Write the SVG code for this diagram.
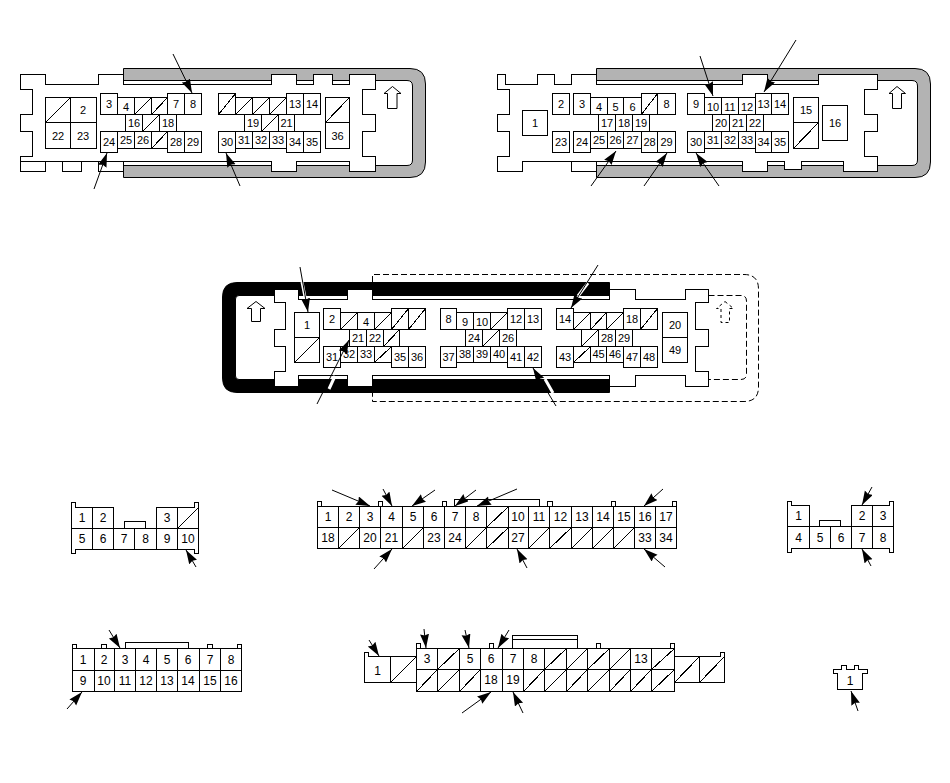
<svg xmlns="http://www.w3.org/2000/svg" width="950" height="783" viewBox="0 0 950 783">
<style>
text{font-family:"Liberation Sans",Arial,sans-serif;font-size:11px;text-anchor:middle;fill:#000;opacity:.999}
.big text{font-size:12px}
.b{fill:#fff;stroke:#000;stroke-width:1;shape-rendering:crispEdges}
.g{fill:none;stroke:#000;stroke-width:1;shape-rendering:crispEdges}
.band{fill:#b3b3b3;stroke:#000;stroke-width:1}
.k{fill:#000;stroke:#000;stroke-width:1}
.d{fill:none;stroke:#000;stroke-width:1;stroke-dasharray:6 3}
.u{fill:#fff;stroke:#000;stroke-width:1}
.ud{fill:none;stroke:#000;stroke-width:1;stroke-dasharray:3 3}
.a{stroke:#000;stroke-width:1;fill:none;marker-end:url(#ah)}
.h{stroke:#fff;stroke-width:3;fill:none}
</style>
<defs>
<marker id="ah" markerUnits="userSpaceOnUse" markerWidth="15" markerHeight="10" refX="14" refY="4.5" orient="auto">
<path d="M0,0L14,4.5L0,9L1.5,4.5z" fill="#000"/>
</marker>
</defs>
<rect width="950" height="783" fill="#fff"/>

<g id="connector-a">
<path class="band" d="M123.5,68.5H410Q425.5,68.5 425.5,84V162Q425.5,177.5 410,177.5H123.5V165.5H407Q412.5,165.5 412.5,160V86Q412.5,80.5 407,80.5H123.5Z"/>
<path class="b" d="M20.5,74.5H45.5V84.5H98.5V74.5H123.5V84.5H271.5V74.5H296.5V84.5H313.5V74.5H332.5V84.5H349.5V74.5H375.5V89.5H362.5V114.5H375.5V131.5H362.5V156.5H375.5V171.5H349.5V161.5H296.5V171.5H271.5V161.5H123.5V171.5H98.5V161.5H81.5V171.5H62.5V161.5H45.5V171.5H20.5V156.5H32.5V131.5H20.5V114.5H32.5V89.5H20.5Z"/>
<path class="g" d="M20.5,161.5H123.5M20.5,156.5H32.5"/>
<path class="g" d="M45.5,97.5h25v25h-25zM45.5,122.5L70.5,97.5M70.5,97.5h26v25h-26zM45.5,122.5h25v26h-25zM70.5,122.5h26v26h-26z
M100.5,93.5h17v21h-17zM117.5,97.5h17v17h-17zM134.5,97.5h17v17h-17zM134.5,114.5L151.5,97.5M151.5,97.5h16v17h-16zM151.5,114.5L167.5,97.5M167.5,93.5h17v21h-17zM184.5,93.5h17v21h-17z
M125.5,114.5h17v17h-17zM142.5,114.5h17v17h-17zM142.5,131.5L159.5,114.5M159.5,114.5h17v17h-17z
M100.5,131.5h17v21h-17zM117.5,131.5h17v17h-17zM134.5,131.5h17v17h-17zM151.5,131.5h16v17h-16zM151.5,148.5L167.5,131.5M167.5,131.5h17v21h-17zM184.5,131.5h17v21h-17z
M218.5,93.5h17v21h-17zM218.5,114.5L235.5,93.5M235.5,97.5h17v17h-17zM235.5,114.5L252.5,97.5M252.5,97.5h17v17h-17zM252.5,114.5L269.5,97.5M269.5,97.5h17v17h-17zM269.5,114.5L286.5,97.5M286.5,93.5h17v21h-17zM303.5,93.5h17v21h-17z
M244.5,114.5h17v17h-17zM261.5,114.5h17v17h-17zM261.5,131.5L278.5,114.5M278.5,114.5h16v17h-16z
M218.5,131.5h17v21h-17zM235.5,131.5h17v17h-17zM252.5,131.5h17v17h-17zM269.5,131.5h17v17h-17zM286.5,131.5h17v21h-17zM303.5,131.5h17v21h-17z
M325.5,97.5h24v25h-24zM325.5,122.5L349.5,97.5M325.5,122.5h24v26h-24z"/>
<path class="u" d="M392.5,86.5L401,93.5H397V108.5H387.5V93.5H384Z"/>
<text x="83" y="114">2</text><text x="58" y="139.5">22</text><text x="83" y="139.5">23</text>
<text x="109" y="108">3</text><text x="126" y="111">4</text><text x="176" y="108">7</text><text x="193" y="108">8</text>
<text x="134" y="127">16</text><text x="168" y="127">18</text>
<text x="109" y="146">24</text><text x="126" y="144">25</text><text x="143" y="144">26</text><text x="176" y="146">28</text><text x="193" y="146">29</text>
<text x="295" y="108">13</text><text x="312" y="108">14</text>
<text x="253" y="127">19</text><text x="286.5" y="127">21</text>
<text x="227" y="146">30</text><text x="244" y="144">31</text><text x="261" y="144">32</text><text x="278" y="144">33</text><text x="295" y="146">34</text><text x="312" y="146">35</text>
<text x="337.5" y="139.5">36</text>
</g>

<g id="connector-b">
<path class="band" d="M596.5,68.5H915Q930.5,68.5 930.5,84V162Q930.5,177.5 915,177.5H596.5V165.5H912Q917.5,165.5 917.5,160V86Q917.5,80.5 912,80.5H596.5Z"/>
<path class="b" d="M497.5,74.5H505.5V84.5H537.5V74.5H554.5V84.5H571.5V74.5H596.5V84.5H742.5V74.5H767.5V84.5H818.5V74.5H877.5V89.5H864.5V114.5H877.5V131.5H864.5V156.5H877.5V171.5H843.5V161.5H801.5V169.5H784.5V161.5H767.5V171.5H742.5V161.5H596.5V171.5H571.5V161.5H522.5V171.5H497.5V156.5H509.5V131.5H497.5V114.5H509.5V89.5H497.5Z"/>
<path class="g" d="M596.5,161.5H571.5M497.5,89.5H509.5"/>
<path class="g" d="M522.5,110.5h25v25h-25zM552.5,93.5h17v21h-17zM552.5,131.5h17v21h-17z
M573.5,93.5h17v21h-17zM590.5,97.5h17v17h-17zM607.5,97.5h16v17h-16zM623.5,97.5h18v17h-18zM641.5,93.5h16v21h-16zM641.5,114.5L657.5,93.5M657.5,93.5h18v21h-18z
M598.5,114.5h17v17h-17zM615.5,114.5h17v17h-17zM632.5,114.5h17v17h-17z
M573.5,131.5h17v21h-17zM590.5,131.5h17v17h-17zM607.5,131.5h16v17h-16zM623.5,131.5h18v17h-18zM641.5,131.5h16v21h-16zM657.5,131.5h18v21h-18z
M687.5,93.5h17v21h-17zM704.5,97.5h17v17h-17zM721.5,97.5h17v17h-17zM738.5,97.5h17v17h-17zM755.5,93.5h16v21h-16zM771.5,93.5h17v21h-17z
M712.5,114.5h17v17h-17zM729.5,114.5h17v17h-17zM746.5,114.5h17v17h-17z
M687.5,131.5h17v21h-17zM704.5,131.5h17v17h-17zM721.5,131.5h17v17h-17zM738.5,131.5h17v17h-17zM755.5,131.5h16v21h-16zM771.5,131.5h17v21h-17z
M793.5,97.5h25v25h-25zM793.5,122.5h25v26h-25zM793.5,148.5L818.5,122.5M822.5,105.5h25v35h-25z"/>
<path class="u" d="M897,86.5L905.5,93.5H901.5V108.5H892.5V93.5H889Z"/>
<text x="535" y="127">1</text><text x="561" y="108">2</text><text x="561" y="146">23</text>
<text x="582" y="108">3</text><text x="599" y="111">4</text><text x="615.5" y="111">5</text><text x="632.5" y="111">6</text><text x="666.5" y="108">8</text>
<text x="607" y="127">17</text><text x="624" y="127">18</text><text x="641" y="127">19</text>
<text x="582" y="146">24</text><text x="599" y="144">25</text><text x="615.5" y="144">26</text><text x="632.5" y="144">27</text><text x="649.5" y="146">28</text><text x="666.5" y="146">29</text>
<text x="696" y="108">9</text><text x="713" y="111">10</text><text x="730" y="111">11</text><text x="747" y="111">12</text><text x="763.5" y="108">13</text><text x="780" y="108">14</text>
<text x="721" y="127">20</text><text x="738" y="127">21</text><text x="755" y="127">22</text>
<text x="696" y="146">30</text><text x="713" y="144">31</text><text x="730" y="144">32</text><text x="747" y="144">33</text><text x="763.5" y="146">34</text><text x="780" y="146">35</text>
<text x="806" y="114">15</text><text x="835" y="127">16</text>
</g>

<g id="connector-c">
<path class="d" d="M372.5,282V274.5H744Q758.5,274.5 758.5,289V387Q758.5,401.5 744,401.5H372.5V393"/>
<path class="d" d="M708.5,295.5H741Q746.5,295.5 746.5,301V374Q746.5,379.5 741,379.5H708.5"/>
<path class="k" d="M609.5,282.5H237Q222.5,282.5 222.5,297V378Q222.5,392.5 237,392.5H609.5V379.5H239Q235.5,379.5 235.5,376V299Q235.5,295.5 239,295.5H609.5Z"/>
<path class="b" d="M274.5,289.5H298.5V299.5H347.5V289.5H372.5V299.5H609.5V289.5H635.5V299.5H685.5V289.5H708.5V302.5H695.5V329.5H708.5V346.5H695.5V371.5H708.5V386.5H685.5V375.5H635.5V386.5H609.5V375.5H372.5V386.5H347.5V375.5H298.5V386.5H274.5V371.5H285.5V346.5H274.5V329.5H285.5V302.5H274.5Z"/>
<path class="g" d="M294.5,312.5h25v25h-25zM294.5,337.5h25v25h-25zM294.5,362.5L319.5,337.5
M323.5,308.5h17v21h-17zM340.5,312.5h17v17h-17zM340.5,329.5L357.5,312.5M357.5,312.5h17v17h-17zM374.5,312.5h17v17h-17zM374.5,329.5L391.5,312.5M391.5,308.5h17v21h-17zM391.5,329.5L408.5,308.5M408.5,308.5h17v21h-17zM408.5,329.5L425.5,308.5
M349.5,329.5h17v17h-17zM366.5,329.5h17v17h-17zM383.5,329.5h16v17h-16zM383.5,346.5L399.5,329.5
M323.5,346.5h17v21h-17zM340.5,346.5h17v16h-17zM357.5,346.5h17v16h-17zM374.5,346.5h17v16h-17zM374.5,362.5L391.5,346.5M391.5,346.5h17v21h-17zM408.5,346.5h17v21h-17z
M440.5,308.5h16v21h-16zM456.5,312.5h17v17h-17zM473.5,312.5h17v17h-17zM490.5,312.5h17v17h-17zM490.5,329.5L507.5,312.5M507.5,308.5h17v21h-17zM524.5,308.5h17v21h-17z
M465.5,329.5h17v17h-17zM482.5,329.5h17v17h-17zM482.5,346.5L499.5,329.5M499.5,329.5h17v17h-17z
M440.5,346.5h16v21h-16zM456.5,346.5h17v16h-17zM473.5,346.5h17v16h-17zM490.5,346.5h17v16h-17zM507.5,346.5h17v21h-17zM524.5,346.5h17v21h-17z
M556.5,308.5h17v21h-17zM573.5,312.5h17v17h-17zM573.5,329.5L590.5,312.5M590.5,312.5h16v17h-16zM590.5,329.5L606.5,312.5M606.5,312.5h17v17h-17zM606.5,329.5L623.5,312.5M623.5,308.5h17v21h-17zM640.5,308.5h17v21h-17zM640.5,329.5L657.5,308.5
M581.5,329.5h17v17h-17zM581.5,346.5L598.5,329.5M598.5,329.5h17v17h-17zM615.5,329.5h17v17h-17z
M556.5,346.5h17v21h-17zM573.5,346.5h17v16h-17zM573.5,362.5L590.5,346.5M590.5,346.5h16v16h-16zM606.5,346.5h17v16h-17zM623.5,346.5h17v21h-17zM640.5,346.5h17v21h-17z
M662.5,312.5h25v25h-25zM662.5,337.5h25v25h-25z"/>
<path class="u" d="M256,301.5L265,308.5H260.5V321.5H251.5V308.5H247Z"/>
<path class="ud" d="M725,301.5L733.5,308.5H729.5V322.5H721V308.5H716.5Z"/>
<text x="307" y="329">1</text>
<text x="332" y="323">2</text><text x="366" y="326">4</text>
<text x="358" y="342">21</text><text x="375" y="342">22</text>
<text x="332" y="361">31</text><text x="349" y="358">32</text><text x="366" y="358">33</text><text x="400" y="361">35</text><text x="417" y="361">36</text>
<text x="448.5" y="323">8</text><text x="465" y="326">9</text><text x="482" y="326">10</text><text x="516" y="323">12</text><text x="533" y="323">13</text>
<text x="474" y="342">24</text><text x="508" y="342">26</text>
<text x="448.5" y="361">37</text><text x="465" y="358">38</text><text x="482" y="358">39</text><text x="499" y="358">40</text><text x="516" y="361">41</text><text x="533" y="361">42</text>
<text x="565" y="323">14</text><text x="632" y="323">18</text>
<text x="607" y="342">28</text><text x="624" y="342">29</text>
<text x="565" y="361">43</text><text x="598.5" y="358">45</text><text x="615" y="358">46</text><text x="632" y="361">47</text><text x="649" y="361">48</text>
<text x="675" y="329">20</text><text x="675" y="354">49</text>
</g>

<g id="connector-d" class="big">
<path class="b" d="M71.5,502.5H75.5V507.5H113.5V528.5H124V521H145.5V528.5H156.5V507.5H194.5V502.5H198.5V553.5H194.5V549H75.5V553.5H71.5Z"/>
<path class="g" d="M71.5,528.5H198.5M92.5,507.5V549M113.5,528.5V549M134.5,528.5V549M156.5,528.5V549M177.5,507.5V549M177.5,528.5L198.5,507.5"/>
<text x="82" y="522">1</text><text x="103" y="522">2</text><text x="167" y="522">3</text>
<text x="82" y="543">5</text><text x="103" y="543">6</text><text x="124" y="543">7</text><text x="145.5" y="543">8</text><text x="167" y="543">9</text><text x="188" y="543">10</text>
</g>

<g id="connector-e" class="big">
<path class="b" d="M317.5,501.5H321.5V506.5H378.5V501.5H382.5V506.5H442.5V501.5H446.5V506.5H454.5V499.5H539.5V506.5H547.5V501.5H552V506.5H611.5V501.5H615.5V506.5H672.5V501.5H676.5V548.5H317.5Z"/>
<path class="g" d="M317.5,506.5H676.5M317.5,527.5H676.5M338.5,506.5V548.5M359.5,506.5V548.5M380.5,506.5V548.5M402.5,506.5V548.5M423.5,506.5V548.5M444.5,506.5V548.5M465.5,506.5V548.5M486.5,506.5V548.5M508.5,506.5V548.5M528.5,506.5V548.5M549.5,506.5V548.5M571.5,506.5V548.5M592.5,506.5V548.5M613.5,506.5V548.5M634.5,506.5V548.5M655.5,506.5V548.5
M486.5,527.5L508.5,506.5M338.5,548.5L359.5,527.5M402.5,548.5L423.5,527.5M465.5,548.5L486.5,527.5M486.5,548.5L508.5,527.5M528.5,548.5L549.5,527.5M549.5,548.5L571.5,527.5M571.5,548.5L592.5,527.5M592.5,548.5L613.5,527.5M613.5,548.5L634.5,527.5"/>
<text x="328" y="521">1</text><text x="349" y="521">2</text><text x="370" y="521">3</text><text x="391.5" y="521">4</text><text x="413" y="521">5</text><text x="434" y="521">6</text><text x="455" y="521">7</text><text x="476" y="521">8</text><text x="518" y="521">10</text><text x="539" y="521">11</text><text x="560.5" y="521">12</text><text x="582" y="521">13</text><text x="603" y="521">14</text><text x="624" y="521">15</text><text x="645" y="521">16</text><text x="666" y="521">17</text>
<text x="328" y="542">18</text><text x="370" y="542">20</text><text x="391.5" y="542">21</text><text x="434" y="542">23</text><text x="455" y="542">24</text><text x="518" y="542">27</text><text x="645" y="542">33</text><text x="666" y="542">34</text>
</g>

<g id="connector-f" class="big">
<path class="b" d="M787.5,501.5H791.5V505.5H809.5V526.5H819.5V520.5H840.5V526.5H851.5V505.5H889.5V501.5H893.5V552H889.5V548H791.5V552H787.5Z"/>
<path class="g" d="M787.5,526.5H893.5M809.5,526.5V548M830.5,526.5V548M851.5,526.5V548M872.5,505.5V548"/>
<text x="798.5" y="520">1</text><text x="862" y="520">2</text><text x="883" y="520">3</text>
<text x="798.5" y="542">4</text><text x="820" y="542">5</text><text x="841" y="542">6</text><text x="862" y="542">7</text><text x="883" y="542">8</text>
</g>

<g id="connector-g" class="big">
<path class="b" d="M72.5,644.5H76.5V648.5H101.5V644.5H106.5V648.5H125.5V642.5H188.5V648.5H207.5V644.5H212V648.5H237.5V644.5H241.5V691.5H72.5Z"/>
<path class="g" d="M72.5,648.5H241.5M72.5,670.5H241.5M94.5,648.5V691.5M114.5,648.5V691.5M135.5,648.5V691.5M156.5,648.5V691.5M177.5,648.5V691.5M199.5,648.5V691.5M220.5,648.5V691.5"/>
<text x="83" y="664">1</text><text x="104" y="664">2</text><text x="125" y="664">3</text><text x="146" y="664">4</text><text x="167" y="664">5</text><text x="188" y="664">6</text><text x="210" y="664">7</text><text x="231" y="664">8</text>
<text x="83" y="685">9</text><text x="104" y="685">10</text><text x="125" y="685">11</text><text x="146" y="685">12</text><text x="167" y="685">13</text><text x="188" y="685">14</text><text x="210" y="685">15</text><text x="231" y="685">16</text>
</g>

<g id="connector-h" class="big">
<path class="b" d="M364.5,652.5H368.5V656.5H416.5V643.5H420.5V648.5H489.5V643.5H493.5V648.5H512.5V635.5H577.5V648.5H596.5V643.5H600.5V648.5H670.5V643.5H674.5V656.5H720.5V652.5H724.5V682.5H674.5V691.5H416.5V682.5H364.5Z"/>
<path class="g" d="M512.5,639.5H577.5M416.5,648.5H674.5M416.5,669.5H674.5M416.5,656.5V691.5M674.5,656.5V691.5M390.5,656.5V682.5M699.5,656.5V682.5
M437.5,648.5V691.5M459.5,648.5V691.5M480.5,648.5V691.5M502.5,648.5V691.5M523.5,648.5V691.5M544.5,648.5V691.5M566.5,648.5V691.5M587.5,648.5V691.5M609.5,648.5V691.5M630.5,648.5V691.5M651.5,648.5V691.5
M390.5,682.5L416.5,656.5M674.5,682.5L699.5,656.5M699.5,682.5L724.5,656.5
M437.5,669.5L459.5,648.5M544.5,669.5L566.5,648.5M566.5,669.5L587.5,648.5M587.5,669.5L609.5,648.5M609.5,669.5L630.5,648.5M651.5,669.5L674.5,648.5
M416.5,691.5L437.5,669.5M437.5,691.5L459.5,669.5M459.5,691.5L480.5,669.5M523.5,691.5L544.5,669.5M544.5,691.5L566.5,669.5M566.5,691.5L587.5,669.5M587.5,691.5L609.5,669.5M609.5,691.5L630.5,669.5M630.5,691.5L651.5,669.5M651.5,691.5L674.5,669.5"/>
<text x="377.5" y="675">1</text>
<text x="427" y="663">3</text><text x="470" y="663">5</text><text x="491" y="663">6</text><text x="513" y="663">7</text><text x="534" y="663">8</text><text x="641" y="663">13</text>
<text x="491" y="684">18</text><text x="513" y="684">19</text>
</g>

<g id="connector-i" class="big">
<path class="b" d="M833.5,673.5V669.5H841.5V665.5H846.5V669.5H854.5V665.5H858.5V669.5H867V673.5H862.5V689.5H837.5V673.5Z"/>
<text x="850" y="685">1</text>
</g>

<g id="connectors">
<path class="h" d="M302,282L305,297M335,376L329,389M553,393L545,379M588,283L578,296"/>
<path class="a" d="M173,54L192,93"/>
<path class="a" d="M94,189L107,153"/>
<path class="a" d="M240,186L226,153"/>
<path class="a" d="M700,56L713,96"/>
<path class="a" d="M796,40L764,92"/>
<path class="a" d="M591,186L616,151"/>
<path class="a" d="M644,186L667,153"/>
<path class="a" d="M719,186L696,153"/>
<path class="a" d="M300,267L308,312"/>
<path class="a" d="M317,404L349,340"/>
<path class="a" d="M598,265L571,308"/>
<path class="a" d="M556,406L533,368"/>
<path class="a" d="M196,567L186,550"/>
<path class="a" d="M332,490L370,506"/>
<path class="a" d="M383,489L392,506"/>
<path class="a" d="M435,490L412,506"/>
<path class="a" d="M476,490L455,506"/>
<path class="a" d="M517,489L477,506"/>
<path class="a" d="M663,489L644,506"/>
<path class="a" d="M374,569L392,549"/>
<path class="a" d="M527,568L517,549"/>
<path class="a" d="M665,567L644,549"/>
<path class="a" d="M872,487L862,505"/>
<path class="a" d="M871,566L862,549"/>
<path class="a" d="M109,630L120,648"/>
<path class="a" d="M67,709L82,692"/>
<path class="a" d="M369,640L379,656"/>
<path class="a" d="M424,629L426,648"/>
<path class="a" d="M465,630L469,648"/>
<path class="a" d="M509,630L498,648"/>
<path class="a" d="M462,713L491,692"/>
<path class="a" d="M523,713L513,692"/>
<path class="a" d="M858,711L851,691"/>
</g>
</svg>
